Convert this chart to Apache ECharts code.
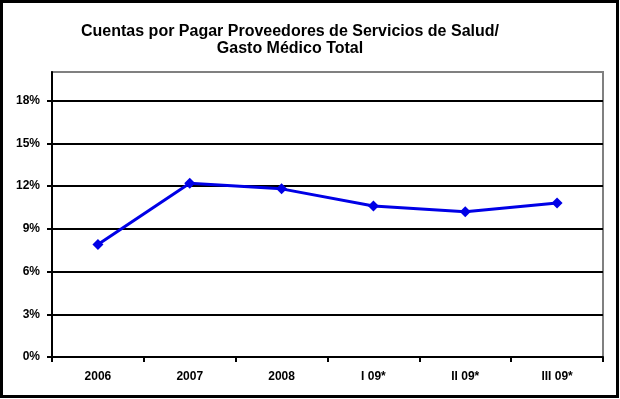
<!DOCTYPE html>
<html>
<head>
<meta charset="utf-8">
<script src="https://cdn.jsdelivr.net/npm/echarts@6/dist/echarts.min.js"></script>
<style>
  html, body { margin: 0; padding: 0; background: #fff; }
  #main { width: 620px; height: 399px; }
</style>
</head>
<body>
<div id="main"></div>
<script>
var myChart = echarts.init(document.getElementById('main'));

// categorías del eje x
var periodos = ['2006', '2007', '2008', 'I 09*', 'II 09*', 'III 09*'];

// cuentas por pagar / gasto médico total (%)
var ratio = [7.9, 12.2, 11.8, 10.6, 10.2, 10.8];

// marcas del eje y (%)
var yTicks = [0, 3, 6, 9, 12, 15, 18];
var yMax = 20;

var labelFont = {
  fontFamily: 'Liberation Sans, Arial, sans-serif',
  fontWeight: 'bold',
  fontSize: 12,
  color: '#000'
};

var option = {
  animation: false,
  backgroundColor: '#fff',
  title: {
    text: 'Cuentas por Pagar Proveedores de Servicios de Salud/\nGasto Médico Total',
    left: 285,
    top: 18,
    textAlign: 'center',
    textStyle: {
      fontFamily: 'Liberation Sans, Arial, sans-serif',
      fontWeight: 'bold',
      fontSize: 16,
      lineHeight: 17,
      color: '#000'
    }
  },
  grid: {
    left: 52,
    right: 17,
    top: 72,
    bottom: 42,
    show: true,
    borderColor: '#808080',
    borderWidth: 2,
    containLabel: false
  },
  xAxis: {
    type: 'category',
    data: periodos,
    boundaryGap: true,
    axisLine: { lineStyle: { color: '#000', width: 2 } },
    axisTick: { show: true, length: 5, inside: false, lineStyle: { color: '#000', width: 2 } },
    axisLabel: Object.assign({ margin: 14 }, labelFont),
    splitLine: { show: false }
  },
  yAxis: {
    type: 'value',
    min: 0,
    max: yMax,
    interval: 3,
    axisLine: { show: true, lineStyle: { color: '#000', width: 2 } },
    axisTick: {
      show: true,
      length: 5,
      customValues: yTicks,
      lineStyle: { color: '#000', width: 2 }
    },
    axisLabel: Object.assign({
      margin: 12,
      customValues: yTicks,
      formatter: function (v) { return v + '%'; }
    }, labelFont),
    splitLine: {
      show: true,
      lineStyle: { color: '#000', width: 2 }
    }
  },
  graphic: [{
    type: 'rect',
    shape: { x: 1.5, y: 1.5, width: 616, height: 395 },
    style: { fill: 'none', stroke: '#000', lineWidth: 3 },
    z: 100
  }],
  series: [{
    type: 'line',
    data: ratio,
    symbol: 'diamond',
    symbolSize: 11,
    lineStyle: { color: '#0000e6', width: 3 },
    itemStyle: { color: '#0000e6' }
  }]
};

myChart.setOption(option);
</script>
</body>
</html>
